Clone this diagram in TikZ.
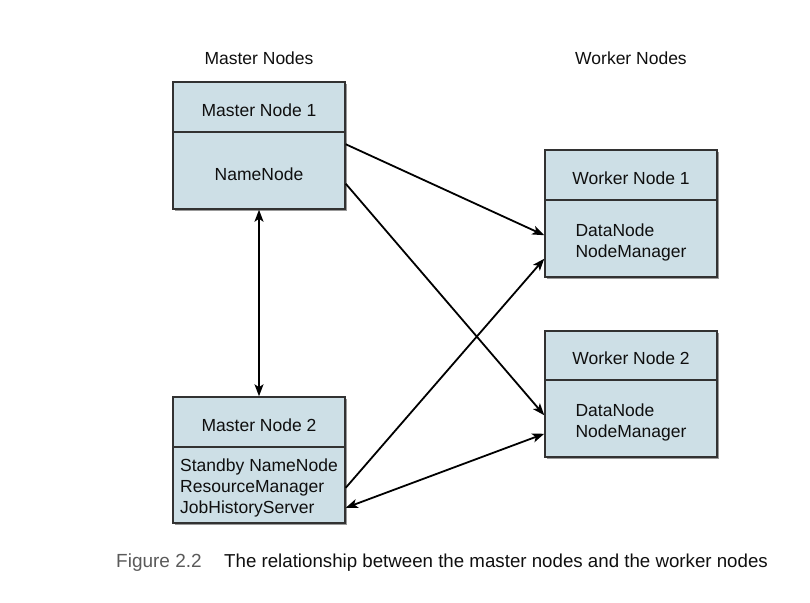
\documentclass[tikz,border=0pt]{standalone}
\usepackage{fontspec}
\setmainfont{Liberation Sans}
\usetikzlibrary{arrows.meta,shadows}
\definecolor{boxfill}{RGB}{205,223,230}
\definecolor{boxline}{RGB}{50,50,50}
\definecolor{txt}{RGB}{15,15,15}
\definecolor{capgray}{RGB}{90,90,90}
\newcommand{\lines}[1]{\begin{tabular}[t]{@{}l@{}}#1\end{tabular}}
\tikzset{
  part/.style={draw=boxline, line width=1.5pt, fill=boxfill, minimum width=172pt,
    inner sep=0pt, text=txt, font=\fontsize{17.5}{21}\selectfont,
    text height=18pt, text depth=0pt,
    drop shadow={shadow xshift=1.8pt, shadow yshift=-1.8pt, fill=black, opacity=0.4}},
  header/.style={text=txt, font=\fontsize{17.5}{21}\selectfont, inner sep=0pt},
  link/.style={line width=1.8pt, draw=black, -{Stealth[length=12pt,width=9pt,inset=3pt]}},
  dlink/.style={line width=1.8pt, draw=black, {Stealth[length=12pt,width=9pt,inset=3pt]}-{Stealth[length=12pt,width=9pt,inset=3pt]}},
}
\begin{document}
\begin{tikzpicture}[x=1pt,y=-1pt]
\useasboundingbox (0,0) rectangle (810,602);
% headers
\node[header] (mh) at (259,58) {Master Nodes};
\node[header] (wh) at (631,58) {Worker Nodes};
% master node 1
\node[part, minimum height=50pt] (m1t) at (259,107) {Master Node 1};
\node[part, minimum height=77pt, text height=19pt] (m1b) at (259,170.5) {NameNode};
% master node 2
\node[part, minimum height=50pt] (m2t) at (259,422) {Master Node 2};
\node[part, minimum height=76pt, text height=14pt, text depth=42pt] (m2b) at (259,485) {\lines{Standby NameNode\\ResourceManager\\JobHistoryServer}};
% worker node 1
\node[part, minimum height=50pt] (w1t) at (631,175) {Worker Node 1};
\node[part, minimum height=77pt, text height=17pt, text depth=21pt] (w1b) at (631,238.5) {\lines{DataNode\\NodeManager}};
% worker node 2
\node[part, minimum height=49pt, text height=17pt] (w2t) at (631,355.5) {Worker Node 2};
\node[part, minimum height=77pt, text height=17pt, text depth=21pt] (w2b) at (631,418.5) {\lines{DataNode\\NodeManager}};
% connectors
\draw[link] ([yshift=-13pt]m1b.north east) -- ([yshift=-36pt]w1b.north west);
\draw[link] ([yshift=26pt]m1b.south east) -- ([yshift=-36pt]w2b.north west);
\draw[link] ([yshift=36pt]m2b.south east) -- ([yshift=19pt]w1b.south west);
\draw[dlink] ([yshift=24pt]w2b.south west) -- ([yshift=16pt]m2b.south east);
\draw[dlink] (m1b.south) -- (m2t.north);
% caption
\node[anchor=west, inner sep=0pt, text=capgray, font=\fontsize{19}{23}\selectfont] (capfig) at (116,563) {Figure 2.2};
\node[anchor=west, inner sep=0pt, text=txt, font=\fontsize{18.7}{23}\selectfont] (captxt) at (224,563) {The relationship between the master nodes and the worker nodes};
\end{tikzpicture}
\end{document}
